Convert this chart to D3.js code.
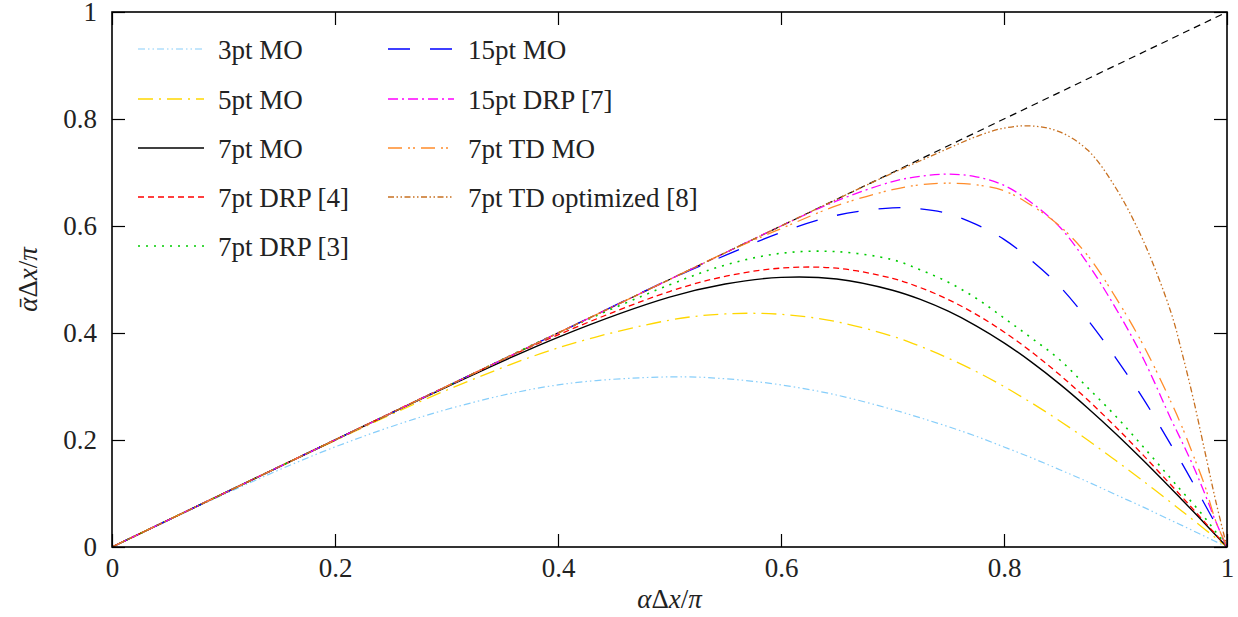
<!DOCTYPE html>
<html>
<head>
<meta charset="utf-8">
<script src="https://cdn.jsdelivr.net/npm/d3@7"></script>
<style>
  body { margin: 0; background: #fff; }
</style>
</head>
<body>
<div id="chart"></div>
<script>
// alpha dx / pi
const xs = [0, 0.1, 0.2, 0.3, 0.4, 0.5, 0.55, 0.6, 0.65, 0.7, 0.725, 0.75, 0.775, 0.8, 0.825, 0.85, 0.875, 0.9, 0.925, 0.95, 0.96, 0.97, 0.98, 0.99, 1];

const mo3 = [0, 0.098, 0.187, 0.257, 0.303, 0.318, 0.3145, 0.303, 0.284, 0.257, 0.2415, 0.225, 0.207, 0.187, 0.1665, 0.1445, 0.122, 0.098, 0.0745, 0.0497, 0.04, 0.03, 0.02, 0.01, 0];
const mo5 = [0, 0.1, 0.199, 0.293, 0.372, 0.424, 0.4356, 0.435, 0.421, 0.394, 0.375, 0.353, 0.328, 0.3, 0.269, 0.2356, 0.2, 0.162, 0.123, 0.0828, 0.0664, 0.05, 0.0333, 0.0167, 0];
const mo7 = [0, 0.1, 0.2, 0.299, 0.392, 0.467, 0.4916, 0.504, 0.501, 0.48, 0.4628, 0.4407, 0.4135, 0.3816, 0.3451, 0.3045, 0.26, 0.2123, 0.1617, 0.109, 0.0875, 0.0658, 0.0439, 0.022, 0];
const drp7a = [0, 0.1, 0.2003, 0.3003, 0.3965, 0.4775, 0.5059, 0.5213, 0.5211, 0.502, 0.4848, 0.4625, 0.4349, 0.402, 0.3642, 0.3218, 0.2751, 0.2248, 0.1713, 0.1154, 0.0928, 0.0698, 0.0466, 0.0233, 0];
const drp7b = [0, 0.1, 0.2, 0.3, 0.4, 0.49, 0.527, 0.549, 0.552, 0.537, 0.518, 0.495, 0.465, 0.428, 0.39, 0.35, 0.298, 0.245, 0.187, 0.127, 0.103, 0.08, 0.055, 0.028, 0];
const mo15 = [0, 0.1, 0.2, 0.3, 0.4, 0.5, 0.545, 0.588, 0.62, 0.634, 0.632, 0.623, 0.603, 0.575, 0.535, 0.487, 0.425, 0.354, 0.277, 0.19, 0.155, 0.118, 0.08, 0.042, 0];
const drp15 = [0, 0.1, 0.2, 0.3, 0.4, 0.5, 0.55, 0.6, 0.647, 0.683, 0.693, 0.697, 0.692, 0.676, 0.643, 0.598, 0.53, 0.447, 0.352, 0.238, 0.195, 0.15, 0.1, 0.047, 0];
const tdmo7 = [0, 0.1, 0.2, 0.3, 0.4, 0.5, 0.55, 0.595, 0.638, 0.668, 0.677, 0.68, 0.677, 0.666, 0.638, 0.6, 0.545, 0.467, 0.377, 0.27, 0.223, 0.17, 0.115, 0.048, 0];
const tdopt7 = [0, 0.1, 0.2, 0.3, 0.4, 0.5, 0.55, 0.6, 0.65, 0.699, 0.722, 0.745, 0.767, 0.783, 0.787, 0.776, 0.742, 0.672, 0.572, 0.437, 0.36, 0.275, 0.18, 0.085, 0];

const names = ["3pt MO", "5pt MO", "7pt MO", "7pt DRP [4]", "7pt DRP [3]", "15pt MO", "15pt DRP [7]", "7pt TD MO", "7pt TD optimized [8]"];
const values = [mo3, mo5, mo7, drp7a, drp7b, mo15, drp15, tdmo7, tdopt7];

const xTicks = [0, 0.2, 0.4, 0.6, 0.8, 1];
const yTicks = [0, 0.2, 0.4, 0.6, 0.8, 1];

// line styles, same order as names
const styles = [
  { color: "#87cefa", dash: "7,3,1.5,3,1.5,3", width: 1.2 },
  { color: "#ffd700", dash: "15,6,2,6", width: 1.3 },
  { color: "#000000", dash: null, width: 1.4 },
  { color: "#ff0000", dash: "6,4", width: 1.3 },
  { color: "#00cc00", dash: "2,6", width: 1.6 },
  { color: "#0000ff", dash: "22,20", width: 1.3 },
  { color: "#ff00ff", dash: "10,4,2,4", width: 1.3 },
  { color: "#ff8c2a", dash: "14,6,2,3,2,6", width: 1.3 },
  { color: "#c87020", dash: "6,2.5,1.5,2.5,1.5,2.5", width: 1.3 }
];

const w = 1238, h = 617;
const padL = 112, padR = 1227, padT = 12, padB = 547;
const serif = "Liberation Serif, Times New Roman, Times, DejaVu Serif, Noto Serif, FreeSerif, serif";

const svg = d3.select("#chart").append("svg")
  .attr("width", w).attr("height", h);

const x = d3.scaleLinear().domain([0, 1]).range([padL, padR]);
const y = d3.scaleLinear().domain([0, 1]).range([padB, padT]);

svg.append("clipPath").attr("id", "clip")
  .append("rect").attr("x", padL).attr("y", padT)
  .attr("width", padR - padL).attr("height", padB - padT);

const plot = svg.append("g").attr("clip-path", "url(#clip)");

// y = x reference
plot.append("path")
  .datum([[0, 0], [1, 1]])
  .attr("d", d3.line().x(d => x(d[0])).y(d => y(d[1])))
  .attr("fill", "none").attr("stroke", "#000")
  .attr("stroke-width", 1.2).attr("stroke-dasharray", "7,5");

const line = d3.line().x(d => x(d[0])).y(d => y(d[1])).curve(d3.curveCatmullRom.alpha(0.5));

values.forEach((vals, i) => {
  const pts = xs.map((xv, j) => [xv, vals[j]]);
  plot.append("path")
    .datum(pts)
    .attr("d", line)
    .attr("fill", "none")
    .attr("stroke", styles[i].color)
    .attr("stroke-width", styles[i].width)
    .attr("stroke-dasharray", styles[i].dash);
});

// axes, ticks pointing inward on all four sides
const fmt = d => d === 0 ? "0" : d === 1 ? "1" : d3.format(".1f")(d);

const gx = svg.append("g").attr("transform", "translate(0," + padB + ")")
  .call(d3.axisBottom(x).tickValues(xTicks).tickFormat(fmt).tickSizeInner(-13).tickSizeOuter(0).tickPadding(11));
const gy = svg.append("g").attr("transform", "translate(" + padL + ",0)")
  .call(d3.axisLeft(y).tickValues(yTicks).tickFormat(fmt).tickSizeInner(-13).tickSizeOuter(0).tickPadding(15));
const gt = svg.append("g").attr("transform", "translate(0," + padT + ")")
  .call(d3.axisTop(x).tickValues(xTicks).tickFormat("").tickSizeInner(-13).tickSizeOuter(0));
const gr = svg.append("g").attr("transform", "translate(" + padR + ",0)")
  .call(d3.axisRight(y).tickValues(yTicks).tickFormat("").tickSizeInner(-13).tickSizeOuter(0));

[gx, gy, gt, gr].forEach(g => {
  g.attr("font-family", null).attr("font-size", null);
  g.select(".domain").remove();
  g.selectAll("line").attr("stroke", "#000").attr("stroke-width", 1.2);
  g.selectAll("text").attr("fill", "#222")
    .style("font-family", serif).style("font-size", "27px");
});

svg.append("rect")
  .attr("x", padL).attr("y", padT)
  .attr("width", padR - padL).attr("height", padB - padT)
  .attr("fill", "none").attr("stroke", "#000").attr("stroke-width", 1.6);

// axis titles
const xt = svg.append("text")
  .attr("x", (padL + padR) / 2).attr("y", 608)
  .attr("text-anchor", "middle").attr("fill", "#222")
  .style("font-family", serif).style("font-size", "27px");
xt.append("tspan").style("font-style", "italic").text("α");
xt.append("tspan").text("Δ");
xt.append("tspan").style("font-style", "italic").text("x");
xt.append("tspan").text("/");
xt.append("tspan").style("font-style", "italic").text("π");

const yt = svg.append("text")
  .attr("transform", "translate(37," + (padT + padB) / 2 + ") rotate(-90)")
  .attr("text-anchor", "middle").attr("fill", "#222")
  .style("font-family", serif).style("font-size", "27px");
yt.append("tspan").style("font-style", "italic").text("\u03B1\u0304");
yt.append("tspan").text("Δ");
yt.append("tspan").style("font-style", "italic").text("x");
yt.append("tspan").text("/");
yt.append("tspan").style("font-style", "italic").text("π");

// legend: two columns
const rowY = [49, 99, 148, 197, 246];
names.forEach((name, i) => {
  const col = i < 5 ? 0 : 1;
  const row = i < 5 ? i : i - 5;
  const x0 = col === 0 ? 138 : 388;
  const g = svg.append("g").attr("transform", "translate(" + x0 + "," + rowY[row] + ")");
  g.append("line")
    .attr("x1", 0).attr("x2", 66).attr("y1", 0).attr("y2", 0)
    .attr("stroke", styles[i].color)
    .attr("stroke-width", styles[i].width)
    .attr("stroke-dasharray", styles[i].dash);
  g.append("text")
    .attr("x", 80).attr("y", 10).attr("fill", "#222")
    .style("font-family", serif).style("font-size", "27px")
    .text(name);
});
</script>
</body>
</html>
